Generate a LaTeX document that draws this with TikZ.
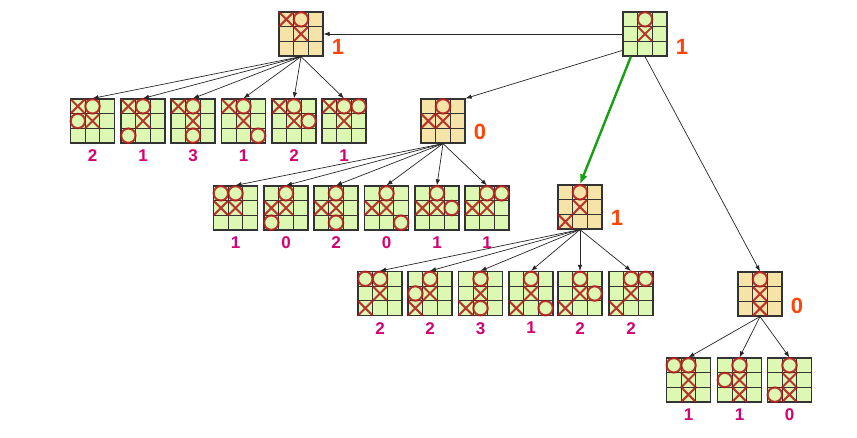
\documentclass[tikz,border=0pt]{standalone}
\usepackage{fontspec}
\setmainfont{Liberation Sans}
\usetikzlibrary{arrows.meta,positioning}

\definecolor{leafgreen}{RGB}{220,248,178}
\definecolor{movetan}{RGB}{245,227,168}
\definecolor{markred}{RGB}{176,22,22}
\definecolor{scoreorange}{RGB}{255,68,10}
\definecolor{leafmagenta}{RGB}{214,0,112}
\definecolor{bestgreen}{RGB}{24,160,20}

\newcommand*{\cell}{14.667}

% board: name, centre, fill, X cells, O cells (col/row, row 0 on top)
\newcommand*{\board}[5]{%
	\node[board,fill=#3] (#1) at (#2) {};
	\begin{scope}[shift={(#2)}]
		\foreach \k in {-1,1}
		{
			\draw[gridline] (\k*\cell/2,-22) -- (\k*\cell/2,22);
			\draw[gridline] (-22,\k*\cell/2) -- (22,\k*\cell/2);
		}
		\foreach \cx/\cy in {#4}
			\draw[xmark] ({(\cx-1)*\cell-7.3},{(\cy-1)*\cell-7.3}) -- ++(14.6,14.6)
				({(\cx-1)*\cell-7.3},{(\cy-1)*\cell+7.3}) -- ++(14.6,-14.6);
		\foreach \cx/\cy in {#5}
			\draw[omark,fill=#3] ({(\cx-1)*\cell},{(\cy-1)*\cell}) circle[radius=7.2pt];
	\end{scope}
}

\begin{document}
\begin{tikzpicture}
[
	x=1pt,y=-1pt,
	board/.style={draw=black!80,line width=1.2pt,minimum size=44pt,inner sep=0pt},
	gridline/.style={draw=black!80,line width=1pt},
	xmark/.style={draw=markred,line width=2.1pt,opacity=0.85},
	omark/.style={draw=markred,line width=2.1pt,draw opacity=0.85},
	score/.style={text=scoreorange,font=\fontsize{22}{22}\selectfont\bfseries,inner sep=0pt},
	leafval/.style={text=leafmagenta,font=\fontsize{17}{17}\selectfont\bfseries,inner sep=0pt},
	edge/.style={draw=black!85,line width=0.7pt,-{Latex[length=6pt,width=4.5pt]}},
	best/.style={draw=bestgreen,line width=2.4pt,-{Latex[length=10pt,width=8pt]}}
]

	\useasboundingbox (0,0) rectangle (857,438);

	% current position and the four moves
	\board{root}{645,34}{leafgreen}{1/1}{1/0}
	\board{A}{301,34}{movetan}{0/0,1/1}{1/0}
	\board{B}{443,121}{movetan}{0/1,1/1}{1/0}
	\board{C}{580,207}{movetan}{1/1,0/2}{1/0}
	\board{D}{760,294}{movetan}{1/1,1/2}{1/0}

	\node[score,right=8pt of root.east,yshift=-13pt] (vroot) {1};
	\node[score,right=8pt of A.east,yshift=-13pt] (vA) {1};
	\node[score,right=8pt of B.east,yshift=-11pt] (vB) {0};
	\node[score,right=8pt of C.east,yshift=-11pt] (vC) {1};
	\node[score,right=8pt of D.east,yshift=-12pt] (vD) {0};

	% replies to A
	\board{a1}{92.5,121}{leafgreen}{0/0,1/1}{1/0,0/1}
	\board{a2}{143,121}{leafgreen}{0/0,1/1}{1/0,0/2}
	\board{a3}{193,121}{leafgreen}{0/0,1/1}{1/0,1/2}
	\board{a4}{243.5,121}{leafgreen}{0/0,1/1}{1/0,2/2}
	\board{a5}{294,121}{leafgreen}{0/0,1/1}{1/0,2/1}
	\board{a6}{344,121}{leafgreen}{0/0,1/1}{1/0,2/0}

	% replies to B
	\board{b1}{235.5,208}{leafgreen}{0/1,1/1}{1/0,0/0}
	\board{b2}{286,208}{leafgreen}{0/1,1/1}{1/0,0/2}
	\board{b3}{336,208}{leafgreen}{0/1,1/1}{1/0,1/2}
	\board{b4}{386.5,208}{leafgreen}{0/1,1/1}{1/0,2/2}
	\board{b5}{437,208}{leafgreen}{0/1,1/1}{1/0,2/1}
	\board{b6}{487,208}{leafgreen}{0/1,1/1}{1/0,2/0}

	% replies to C
	\board{c1}{380,293.5}{leafgreen}{1/1,0/2}{1/0,0/0}
	\board{c2}{430,293.5}{leafgreen}{1/1,0/2}{1/0,0/1}
	\board{c3}{480.5,293.5}{leafgreen}{1/1,0/2}{1/0,1/2}
	\board{c4}{531,293.5}{leafgreen}{1/1,0/2}{1/0,2/2}
	\board{c5}{580,293.5}{leafgreen}{1/1,0/2}{1/0,2/1}
	\board{c6}{631,293.5}{leafgreen}{1/1,0/2}{1/0,2/0}

	% replies to D
	\board{d1}{688.5,380}{leafgreen}{1/1,1/2}{1/0,0/0}
	\board{d2}{739.5,380}{leafgreen}{1/1,1/2}{1/0,0/1}
	\board{d3}{789.5,380}{leafgreen}{1/1,1/2}{1/0,0/2}

	% leaf values
	\foreach \i/\v in {1/2,2/1,3/3,4/1,5/2,6/1}
		\node[leafval,below=6pt of a\i] (va\i) {\v};
	\foreach \i/\v in {1/1,2/0,3/2,4/0,5/1,6/1}
		\node[leafval,below=6pt of b\i] (vb\i) {\v};
	\foreach \i/\v in {1/2,2/2,3/3,4/1,5/2,6/2}
		\node[leafval,below=6pt of c\i] (vc\i) {\v};
	\foreach \i/\v in {1/1,2/1,3/0}
		\node[leafval,below=6pt of d\i] (vd\i) {\v};

	% edges
	\draw[edge] (root.west) -- (A.east);
	\draw[edge] (root.216) -- (B.north east);
	\draw[best] (root.238) -- (C.north);
	\draw[edge] (root.south) -- (D.north);
	\foreach \i in {1,...,6}
	{
		\draw[edge] (A.south) -- (a\i.north);
		\draw[edge] (B.south) -- (b\i.north);
		\draw[edge] (C.south) -- (c\i.north);
	}
	\foreach \i in {1,2,3}
		\draw[edge] (D.south) -- (d\i.north);

\end{tikzpicture}
\end{document}
